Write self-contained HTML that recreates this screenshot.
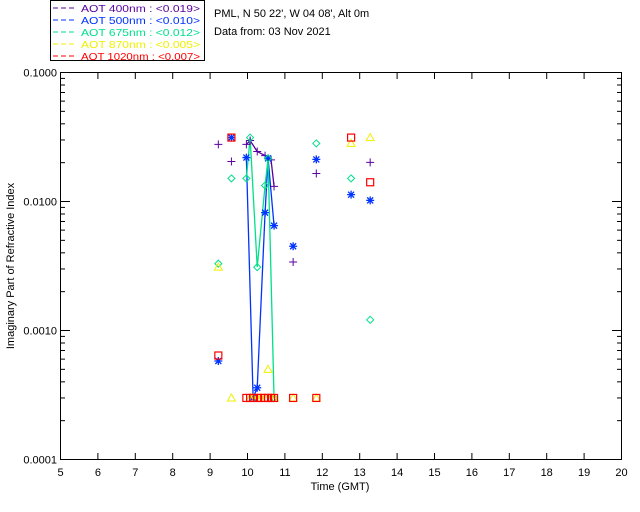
<!DOCTYPE html>
<html><head><meta charset="utf-8"><style>
body{margin:0;background:#fff}
svg{display:block;font-family:"Liberation Sans","DejaVu Sans",sans-serif}
</style></head><body>
<svg id="chart" width="640" height="512">
<g id="legend">
<rect x="50.5" y="0.5" width="154" height="60" fill="none" stroke="#000"/>
</g>
<text x="214" y="17" font-size="11">PML, N 50 22', W 04 08', Alt 0m</text>
<text x="214" y="35" font-size="11">Data from: 03 Nov 2021</text>
<rect x="60.5" y="72.5" width="561" height="387" fill="none" stroke="#000"/>
<g id="axes"></g><g id="lines"></g><g id="marks"></g>
<text x="340" y="490" font-size="11" text-anchor="middle">Time (GMT)</text>
<text transform="translate(14,266) rotate(-90)" font-size="11" text-anchor="middle">Imaginary Part of Refractive Index</text>
</svg>
<script>
const times=[9.22,9.57,9.97,10.07,10.15,10.26,10.36,10.47,10.55,10.63,10.71,11.22,11.84,12.77,13.28];
const aot400=[0.0277,0.0204,0.0277,0.0297,null,0.0244,null,0.0227,null,0.0210,0.0131,0.0034,0.0165,null,0.0201];
const aot500=[0.00058,0.0313,0.0219,null,0.0003,0.00036,null,0.0082,0.0216,null,0.0065,0.0045,0.0212,0.0113,0.0102];
const aot675=[0.0033,0.0151,0.0151,0.0313,null,0.0031,null,0.0133,0.0216,null,0.0003,null,0.0282,0.0151,0.00121];
const aot870=[0.0031,0.0003,null,0.0003,0.0003,0.0003,0.0003,0.0003,0.0005,0.0003,0.0003,0.0003,0.0003,0.0282,0.0313];
const aot1020=[0.00064,0.0313,0.0003,0.0003,0.0003,0.0003,0.0003,0.0003,0.0003,0.0003,0.0003,0.0003,0.0003,0.0313,0.0141];
const xTicks=[5,6,7,8,9,10,11,12,13,14,15,16,17,18,19,20];
const yTicks=[0.1,0.01,0.001,0.0001];
const yTickLabels=["0.1000","0.0100","0.0010","0.0001"];
const legendLabels=["AOT  400nm : <0.019>","AOT  500nm : <0.010>","AOT  675nm : <0.012>","AOT  870nm : <0.005>","AOT 1020nm : <0.007>"];
const NS="http://www.w3.org/2000/svg";
const X=h=>60.5+(h-5)*37.4;
const Y=v=>72.5+(-1-Math.log10(v))*129;
function mk(t,a,p){const e=document.createElementNS(NS,t);for(const k in a)e.setAttribute(k,a[k]);p.appendChild(e);return e;}
const axes=document.getElementById('axes');
xTicks.forEach(h=>{const x=X(h);
const l=mk('line',{x1:x,x2:x,y1:459.5,y2:453,stroke:'#000'},axes);


const l2=mk('line',{x1:x,x2:x,y1:72.5,y2:79,stroke:'#000'},axes);


const t=mk('text',{x:x,y:476,'font-size':11,'text-anchor':'middle'},axes);t.textContent=h;

});
yTicks.forEach((v,i)=>{const y=Y(v);
const l=mk('line',{x1:60.5,x2:70,y1:y,y2:y,stroke:'#000'},axes);


const l2=mk('line',{x1:612,x2:621.5,y1:y,y2:y,stroke:'#000'},axes);


for(let k=2;k<10&&i<3;k++){const ym=Y(v/10*k);
const m=mk('line',{x1:60.5,x2:65,y1:ym,y2:ym,stroke:'#000'},axes);


const m2=mk('line',{x1:617,x2:621.5,y1:ym,y2:ym,stroke:'#000'},axes);

}
const t=mk('text',{x:57,y:y+4,'font-size':11,'text-anchor':'end'},axes);t.textContent=yTickLabels[i];

});
const series=[[aot400,'#5a00a0','plus'],[aot500,'#0033ff','star'],[aot675,'#00e08a','diamond'],[aot870,'#f0f000','triangle'],[aot1020,'#ff0000','square']];
const lg=document.getElementById('legend');
series.forEach((s,i)=>{const y=12+i*12;
const l=mk('line',{x1:53,x2:75,y1:y-4,y2:y-4,stroke:s[1],'stroke-dasharray':'5,3'},lg);


const t=mk('text',{x:81,y:y,'font-size':10.5,fill:s[1],'xml:space':'preserve',textLength:119,lengthAdjust:'spacingAndGlyphs'},lg);t.textContent=legendLabels[i];

});
const lines=document.getElementById('lines'),marks=document.getElementById('marks');
series.slice(0,3).forEach(s=>{const pts=[];for(let i=2;i<=10;i++)if(s[0][i]!=null)pts.push(X(times[i])+','+Y(s[0][i]));
const p=mk('polyline',{points:pts.join(' '),fill:'none',stroke:s[1],'stroke-width':1.3},lines);

});
series.forEach(s=>{s[0].forEach((v,i)=>{if(v==null)return;const x=X(times[i]),y=Y(v);let e;
if(s[2]=='plus')e=mk('path',{d:`M${x-4},${y}h8M${x},${y-4}v8`,stroke:s[1],fill:'none'},marks);
else if(s[2]=='star')e=mk('path',{d:`M${x-4},${y}h8M${x},${y-4}v8M${x-3},${y-3}l6,6M${x-3},${y+3}l6,-6`,stroke:s[1],'stroke-width':1.3,fill:'none'},marks);
else if(s[2]=='diamond')e=mk('path',{d:`M${x},${y-3.5}l3.5,3.5l-3.5,3.5l-3.5,-3.5z`,stroke:s[1],fill:'none'},marks);
else if(s[2]=='triangle')e=mk('path',{d:`M${x},${y-4}l4,7h-8z`,stroke:s[1],fill:'none'},marks);
else e=mk('rect',{x:x-3.5,y:y-3.5,width:7,height:7,stroke:s[1],'stroke-width':1.2,fill:'none'},marks);

});});
</script>
</body></html>
